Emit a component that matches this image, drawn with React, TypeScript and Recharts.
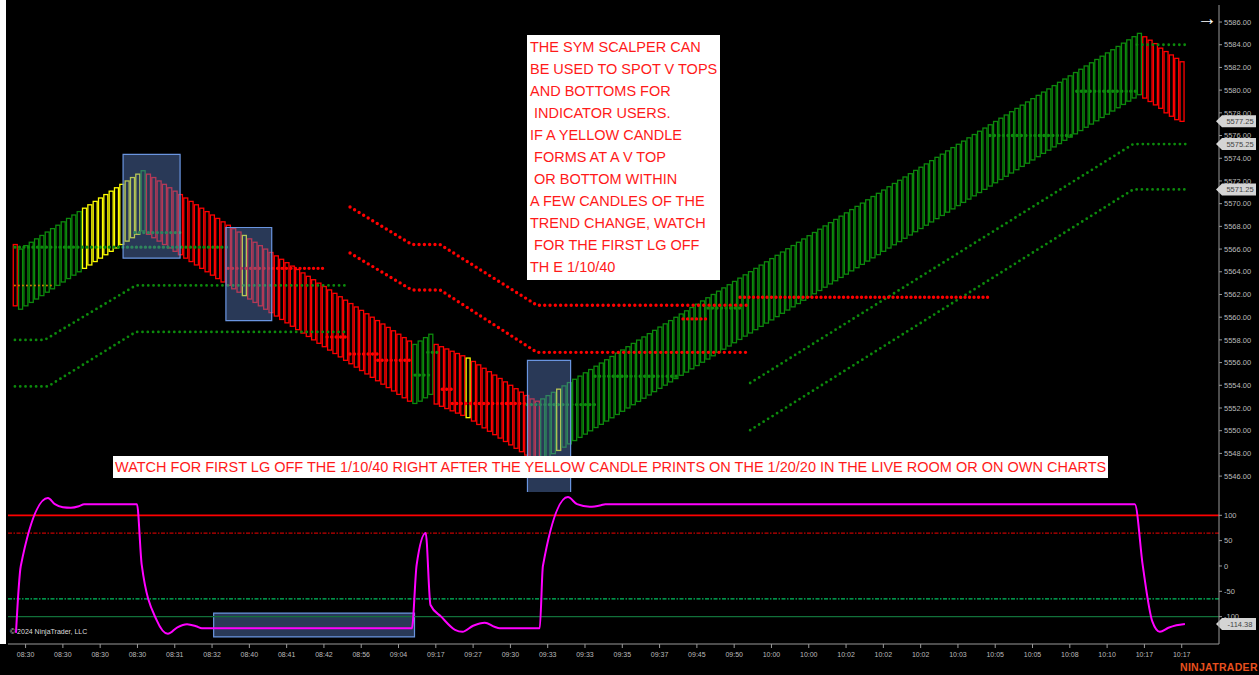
import React from 'react';
import { ComposedChart, Bar, Line, XAxis, YAxis, ReferenceLine, ReferenceArea } from 'recharts';

const CHART_W = 1259;
const MAIN_H = 492;
const LOWER_TOP = 492;
const LOWER_H = 183;
const X_DOMAIN: [number, number] = [-1.3, 226];
const PRICE_DOMAIN: [number, number] = [5544.6, 5587.5];
const OSC_DOMAIN: [number, number] = [-154, 146];

const priceTicks = [5546, 5548, 5550, 5552, 5554, 5556, 5558, 5560, 5562, 5564, 5566, 5568, 5570, 5572, 5574, 5576, 5578, 5580, 5582, 5584, 5586];
const oscTicks = [100, 50, 0, -50, -100];

const timeTickBars = [2, 9, 16, 23, 30, 37, 44, 51, 58, 65, 72, 79, 86, 93, 100, 107, 114, 121, 128, 135, 142, 149, 156, 163, 170, 177, 184, 191, 198, 205, 212, 219];
const timeTickLabels = ['08:30', '08:30', '08:30', '08:30', '08:31', '08:32', '08:40', '08:41', '08:42', '08:56', '09:04', '09:17', '09:27', '09:30', '09:33', '09:33', '09:35', '09:37', '09:45', '09:50', '10:00', '10:00', '10:02', '10:02', '10:02', '10:03', '10:05', '10:05', '10:08', '10:10', '10:17', '10:17'];

// Candle highs / lows by segment (bars 0..219)
const segAHigh = [5566.4];
const segALow = [5561.0];
const segBHigh = [5566.0, 5566.3, 5566.6, 5566.9, 5567.2, 5567.5, 5567.8, 5568.1, 5568.4, 5568.7, 5569.0, 5569.3, 5569.6, 5569.9, 5570.2, 5570.5, 5570.8, 5571.1, 5571.4, 5571.7, 5572.0, 5572.3, 5572.6, 5572.9];
const segBLow = [5560.7, 5561.0, 5561.3, 5561.6, 5561.9, 5562.2, 5562.5, 5562.8, 5563.1, 5563.4, 5563.7, 5564.0, 5564.3, 5564.6, 5564.9, 5565.2, 5565.5, 5565.8, 5566.1, 5566.4, 5566.7, 5567.0, 5567.3, 5567.6];
const segCHigh = [5572.6, 5572.3, 5572.0, 5571.7, 5571.4, 5571.1, 5570.8, 5570.5, 5570.2, 5569.9, 5569.6, 5569.3, 5569.0, 5568.7, 5568.4, 5568.1, 5567.8, 5567.5, 5567.2, 5566.9, 5566.6, 5566.3, 5566.0, 5565.7, 5565.4, 5565.1, 5564.8, 5564.5, 5564.2, 5563.9, 5563.6, 5563.3, 5563.0, 5562.7, 5562.4, 5562.1, 5561.8, 5561.5, 5561.2, 5560.9, 5560.6, 5560.3, 5560.0, 5559.7, 5559.4, 5559.1, 5558.8, 5558.5, 5558.2, 5557.9];
const segCLow = [5567.3, 5567.0, 5566.7, 5566.4, 5566.1, 5565.8, 5565.5, 5565.2, 5564.9, 5564.6, 5564.3, 5564.0, 5563.7, 5563.4, 5563.1, 5562.8, 5562.5, 5562.2, 5561.9, 5561.6, 5561.3, 5561.0, 5560.7, 5560.4, 5560.1, 5559.8, 5559.5, 5559.2, 5558.9, 5558.6, 5558.3, 5558.0, 5557.7, 5557.4, 5557.1, 5556.8, 5556.5, 5556.2, 5555.9, 5555.6, 5555.3, 5555.0, 5554.7, 5554.4, 5554.1, 5553.8, 5553.5, 5553.2, 5552.9, 5552.6];
const segDHigh = [5557.6, 5557.9, 5558.2, 5558.5];
const segDLow = [5552.4, 5552.6, 5552.9, 5553.2];
const segEHigh = [5557.6, 5557.4, 5557.2, 5557.0, 5556.8, 5556.6, 5556.4, 5556.1, 5555.8, 5555.5, 5555.2, 5554.9, 5554.6, 5554.3, 5554.0, 5553.7, 5553.4, 5553.1, 5552.8, 5552.6];
const segELow = [5552.35, 5552.15, 5551.95, 5551.75, 5551.55, 5551.35, 5551.15, 5550.85, 5550.55, 5550.25, 5549.95, 5549.65, 5549.35, 5549.05, 5548.75, 5548.45, 5548.15, 5547.85, 5547.55, 5547.35];
const segFHigh = [5552.80, 5553.09, 5553.38, 5553.66, 5553.95, 5554.24, 5554.53, 5554.81, 5555.10, 5555.39, 5555.68, 5555.96, 5556.25, 5556.54, 5556.83, 5557.11, 5557.40, 5557.69, 5557.98, 5558.26, 5558.55, 5558.84, 5559.13, 5559.41, 5559.70, 5559.99, 5560.28, 5560.56, 5560.85, 5561.14, 5561.43, 5561.71, 5562.00, 5562.29, 5562.58, 5562.86, 5563.15, 5563.44, 5563.73, 5564.01, 5564.30, 5564.59, 5564.88, 5565.16, 5565.45, 5565.74, 5566.03, 5566.31, 5566.60, 5566.89, 5567.18, 5567.46, 5567.75, 5568.04, 5568.33, 5568.61, 5568.90, 5569.19, 5569.48, 5569.76, 5570.05, 5570.34, 5570.63, 5570.91, 5571.20, 5571.49, 5571.78, 5572.06, 5572.35, 5572.64, 5572.93, 5573.21, 5573.50, 5573.79, 5574.08, 5574.36, 5574.65, 5574.94, 5575.23, 5575.51, 5575.80, 5576.09, 5576.38, 5576.66, 5576.95, 5577.24, 5577.53, 5577.81, 5578.10, 5578.39, 5578.68, 5578.96, 5579.25, 5579.54, 5579.83, 5580.11, 5580.40, 5580.69, 5580.98, 5581.26, 5581.55, 5581.84, 5582.13, 5582.41, 5582.70, 5582.99, 5583.28, 5583.56, 5583.85, 5584.14, 5584.43, 5584.71, 5585.00];
const segFLow = [5547.40, 5547.69, 5547.98, 5548.26, 5548.55, 5548.84, 5549.13, 5549.41, 5549.70, 5549.99, 5550.28, 5550.56, 5550.85, 5551.14, 5551.43, 5551.71, 5552.00, 5552.29, 5552.58, 5552.86, 5553.15, 5553.44, 5553.73, 5554.01, 5554.30, 5554.59, 5554.88, 5555.16, 5555.45, 5555.74, 5556.03, 5556.31, 5556.60, 5556.89, 5557.18, 5557.46, 5557.75, 5558.04, 5558.33, 5558.61, 5558.90, 5559.19, 5559.48, 5559.76, 5560.05, 5560.34, 5560.63, 5560.91, 5561.20, 5561.49, 5561.78, 5562.06, 5562.35, 5562.64, 5562.93, 5563.21, 5563.50, 5563.79, 5564.08, 5564.36, 5564.65, 5564.94, 5565.23, 5565.51, 5565.80, 5566.09, 5566.38, 5566.66, 5566.95, 5567.24, 5567.53, 5567.81, 5568.10, 5568.39, 5568.68, 5568.96, 5569.25, 5569.54, 5569.83, 5570.11, 5570.40, 5570.69, 5570.98, 5571.26, 5571.55, 5571.84, 5572.13, 5572.41, 5572.70, 5572.99, 5573.28, 5573.56, 5573.85, 5574.14, 5574.43, 5574.71, 5575.00, 5575.29, 5575.58, 5575.86, 5576.15, 5576.44, 5576.73, 5577.01, 5577.30, 5577.59, 5577.88, 5578.16, 5578.45, 5578.74, 5579.03, 5579.31, 5579.60];
const segGHigh = [5584.7, 5584.4, 5584.1, 5583.7, 5583.4, 5583.1, 5582.8, 5582.5];
const segGLow = [5579.3, 5579.0, 5578.7, 5578.4, 5578.0, 5577.7, 5577.4, 5577.25];

// candle colour runs (r = red, g = green, y = yellow)
const colorRuns: [string, number][] = [['r', 1], ['g', 12], ['y', 11], ['g', 1], ['r', 18], ['y', 1], ['r', 31], ['g', 4], ['r', 6], ['y', 1], ['r', 13], ['g', 3], ['y', 1], ['g', 109], ['r', 8]];
const COLOR_MAP: Record<string, string> = { r: '#ff0000', g: '#0c8a0c', y: '#ffff00' };

// dotted indicator lines: [bar, price]
const g1Pts = [[0, 5558.0], [5.6, 5558.0], [22.7, 5562.8], [62.5, 5562.8]];
const g2Pts = [[0, 5553.9], [6.2, 5553.9], [22.7, 5558.7], [62.5, 5558.7]];
const orangePts = [[0, 5562.8], [7.5, 5562.8]];
const r1Pts = [[62.9, 5569.7], [74.5, 5566.4], [79.8, 5566.4], [98, 5561.05], [137.6, 5561.05]];
const r2Pts = [[62.9, 5565.65], [74.5, 5562.4], [79.8, 5562.4], [98, 5556.9], [137.6, 5556.9]];
const g3Pts = [[138, 5554.2], [209.9, 5575.25], [220, 5575.25]];
const g4Pts = [[138, 5550.05], [209.9, 5571.25], [220, 5571.25]];
const g5Pts = [[210.6, 5584.0], [220, 5584.0]];

// dense level lines: [fromBar, toBar, price]
const greenLevels = [[0, 39.8, 5566.17], [22.5, 31.4, 5567.45], [75.1, 77.9, 5554.9], [77.5, 79.8, 5556.9], [96.1, 108.9, 5552.3], [108.9, 124.3, 5554.8], [130.1, 136.1, 5560.8], [183, 198.6, 5576.0], [199.3, 211, 5579.9]];
const redLevels = [[40, 58.2, 5564.3], [58.6, 62.5, 5558.25], [62.9, 68, 5556.75], [68.1, 74.7, 5556.2], [80.2, 82, 5553.65], [82.1, 96, 5552.4], [125.4, 130.1, 5559.85], [136.1, 183, 5561.75]];

// highlight boxes: [x1, x2, y1, y2]
const priceBoxes = [[20.3, 31.0, 5565.2, 5574.35], [39.6, 48.2, 5559.7, 5567.9], [96.2, 104.3, 5543.9, 5556.2]];
const oscBoxes = [[37.3, 75.0, -140, -93]];

const priceFlags = [5577.25, 5575.25, 5571.25];
const oscFlag = -114.38;

// oscillator (magenta) points: [bar, value]
const oscPts = [[0.2, -132], [1.1, 0], [6.2, 134], [7.5, 122], [9, 116], [10.5, 115], [12, 118], [13, 122], [22.9, 122], [23.8, 2], [26.6, -107], [28.7, -134], [30.5, -121], [32.3, -115], [34, -119], [35.1, -123], [74.5, -123], [75.4, 2], [77.1, 65], [78, -77], [80, -100], [82.6, -126], [84, -130], [86, -118], [88.2, -112], [90, -120], [91, -123], [98.5, -123], [99.1, 0], [103.8, 136], [105.5, 122], [107.9, 117], [110, 120], [110.8, 122], [210.2, 122], [211.7, 0], [213.5, -110], [214.9, -130], [216.5, -122], [218, -117], [219.6, -114.38]];

const noteLines = ['THE SYM SCALPER CAN', 'BE USED TO SPOT V TOPS', 'AND BOTTOMS FOR', ' INDICATOR USERS.', 'IF A YELLOW CANDLE', ' FORMS AT A V TOP', ' OR BOTTOM WITHIN', 'A FEW CANDLES OF THE', 'TREND CHANGE, WATCH', ' FOR THE FIRST LG OFF', 'TH E 1/10/40'];
const bandText = 'WATCH FOR FIRST LG OFF THE 1/10/40 RIGHT AFTER THE YELLOW CANDLE PRINTS ON THE 1/20/20 IN THE LIVE ROOM OR ON OWN CHARTS';

const allHigh = [...segAHigh, ...segBHigh, ...segCHigh, ...segDHigh, ...segEHigh, ...segFHigh, ...segGHigh];
const allLow = [...segALow, ...segBLow, ...segCLow, ...segDLow, ...segELow, ...segFLow, ...segGLow];
const allColors: string[] = [];
colorRuns.forEach(([c, n]) => { for (let i = 0; i < n; i++) allColors.push(c); });
const candles = allHigh.map((h, i) => ({ x: i, range: [allLow[i] ?? h - 5.3, h], c: allColors[i] ?? 'g' }));

const toPts = (arr: number[][]) => arr.map(([x, p]) => ({ x, p }));

const CandleShape = (props: any) => {
  const { x, y, width, height, payload } = props;
  if (x == null || y == null || !payload) return null;
  const cx = x + (width || 0) / 2;
  const top = Math.min(y, y + height);
  const h = Math.max(Math.abs(height), 1);
  const w = 4;
  return <rect x={cx - w / 2} y={top} width={w} height={h} fill="none" stroke={COLOR_MAP[payload.c]} strokeWidth={1.3} />;
};

const Flag = (props: any) => {
  const vb = props.viewBox || {};
  const right = (vb.x || 0) + (vb.width || 0);
  const y = vb.y || 0;
  const x0 = right - 3;
  return (
    <g>
      <polygon points={`${x0},${y} ${x0 + 6},${y - 6} ${x0 + 40},${y - 6} ${x0 + 40},${y + 6} ${x0 + 6},${y + 6}`} fill="#d4d4d4" />
      <text x={x0 + 24} y={y + 2.8} textAnchor="middle" fontSize={7.5} fill="#444" fontFamily="Liberation Sans, Arial, sans-serif">{props.text}</text>
    </g>
  );
};

const dotLine = (key: string, pts: number[][], color: string, width: number, gap: number) => (
  <Line key={key} data={toPts(pts)} dataKey="p" type="linear" stroke={color} strokeWidth={width} strokeDasharray={`0 ${gap}`} strokeLinecap="round" dot={false} activeDot={false} isAnimationActive={false} />
);

const boxStyle = { fill: '#5b7fc0', fillOpacity: 0.45, stroke: '#6a95e0', strokeWidth: 1.2 };
const FONT = 'Liberation Sans, Arial, sans-serif';

export default function App() {
  return (
    <div style={{ position: 'absolute', left: 0, top: 0, width: CHART_W, height: 675, background: '#000', overflow: 'hidden', fontFamily: FONT }}>
      {/* candles */}
      <div style={{ position: 'absolute', left: 0, top: 0 }}>
        <ComposedChart width={CHART_W} height={MAIN_H} data={candles} margin={{ top: 5, right: 0, bottom: 0, left: 8 }}>
          <XAxis dataKey="x" type="number" domain={X_DOMAIN} hide allowDataOverflow />
          <YAxis orientation="right" domain={PRICE_DOMAIN} ticks={priceTicks} allowDataOverflow width={40}
            tickFormatter={(v: number) => v.toFixed(2)} tick={{ fill: '#bbb', fontSize: 7.5, fontFamily: FONT }}
            axisLine={{ stroke: '#999' }} tickLine={{ stroke: '#999' }} tickSize={3} tickMargin={2} interval={0} />
          <Bar dataKey="range" barSize={4} shape={<CandleShape />} isAnimationActive={false} />
        </ComposedChart>
      </div>
      {/* indicator dotted lines */}
      <div style={{ position: 'absolute', left: 0, top: 0 }}>
        <ComposedChart width={CHART_W} height={MAIN_H} margin={{ top: 5, right: 40, bottom: 0, left: 8 }}>
          <XAxis dataKey="x" type="number" domain={X_DOMAIN} hide allowDataOverflow />
          <YAxis domain={PRICE_DOMAIN} hide allowDataOverflow />
          {dotLine('g1', g1Pts, '#0c8a0c', 2.8, 5.3)}
          {dotLine('g2', g2Pts, '#0c8a0c', 2.8, 5.3)}
          {dotLine('or', orangePts, '#c88400', 2, 4)}
          {dotLine('r1', r1Pts, '#ff0000', 3.4, 5.3)}
          {dotLine('r2', r2Pts, '#ff0000', 3.4, 5.3)}
          {dotLine('g3', g3Pts, '#0c8a0c', 2.8, 5.3)}
          {dotLine('g4', g4Pts, '#0c8a0c', 2.8, 5.3)}
          {dotLine('g5', g5Pts, '#0c8a0c', 2.8, 5.3)}
          {greenLevels.map((l, i) => dotLine('gl' + i, [[l[0], l[2]], [l[1], l[2]]], '#0c8a0c', 3.4, 4.5))}
          {redLevels.map((l, i) => dotLine('rl' + i, [[l[0], l[2]], [l[1], l[2]]], '#ff0000', 3.4, 4.5))}
        </ComposedChart>
      </div>
      {/* boxes and value flags */}
      <div style={{ position: 'absolute', left: 0, top: 0 }}>
        <ComposedChart width={CHART_W} height={MAIN_H} margin={{ top: 5, right: 40, bottom: 0, left: 8 }}>
          <XAxis dataKey="x" type="number" domain={X_DOMAIN} hide allowDataOverflow />
          <YAxis domain={PRICE_DOMAIN} hide allowDataOverflow />
          {priceBoxes.map((b, i) => (
            <ReferenceArea key={'pb' + i} x1={b[0]} x2={b[1]} y1={b[2]} y2={b[3]} ifOverflow="visible" {...boxStyle} />
          ))}
          {priceFlags.map((f) => (
            <ReferenceLine key={'pf' + f} y={f} stroke="none" label={<Flag text={f.toFixed(2)} />} />
          ))}
        </ComposedChart>
      </div>
      {/* oscillator panel */}
      <div style={{ position: 'absolute', left: 0, top: LOWER_TOP }}>
        <ComposedChart width={CHART_W} height={LOWER_H} data={oscPts.map(([x, v]) => ({ x, v }))} margin={{ top: 0, right: 0, bottom: 0, left: 8 }}>
          <XAxis dataKey="x" type="number" domain={X_DOMAIN} allowDataOverflow ticks={timeTickBars} interval={0} height={31}
            tickFormatter={(v: number) => timeTickLabels[timeTickBars.indexOf(v)] ?? ''}
            tick={{ fill: '#bbb', fontSize: 7, fontFamily: FONT }} axisLine={{ stroke: '#999' }} tickLine={{ stroke: '#999' }} tickSize={4} tickMargin={4} />
          <YAxis orientation="right" domain={OSC_DOMAIN} ticks={oscTicks} allowDataOverflow width={40} interval={0}
            tick={{ fill: '#bbb', fontSize: 7.5, fontFamily: FONT }} axisLine={{ stroke: '#999' }} tickLine={{ stroke: '#999' }} tickSize={3} tickMargin={2} />
          <ReferenceLine y={100} stroke="#ff0000" strokeWidth={1.8} />
          <ReferenceLine y={65} stroke="#c40000" strokeWidth={1.3} strokeDasharray="4 1.5 1.5 1.5" />
          <ReferenceLine y={-65} stroke="#00c060" strokeWidth={1.3} strokeDasharray="4 1.5 1.5 1.5" />
          <ReferenceLine y={-100} stroke="#12703a" strokeWidth={1.4} />
          <Line dataKey="v" type="monotone" stroke="#ff00ff" strokeWidth={2} dot={false} activeDot={false} isAnimationActive={false} />
          {oscBoxes.map((b, i) => (
            <ReferenceArea key={'ob' + i} x1={b[0]} x2={b[1]} y1={b[2]} y2={b[3]} {...boxStyle} />
          ))}
          <ReferenceLine y={oscFlag} stroke="none" label={<Flag text={oscFlag.toFixed(2)} />} />
        </ComposedChart>
      </div>
      {/* left white strip */}
      <div style={{ position: 'absolute', left: 0, top: 0, width: 6, height: 644, background: '#fff' }} />
      {/* annotation note */}
      <div style={{ position: 'absolute', left: 527, top: 35, width: 193, height: 245, background: '#fff', color: '#ff1a1a', fontSize: 14.5, lineHeight: '22px', paddingTop: 1, paddingLeft: 3, boxSizing: 'border-box', whiteSpace: 'pre' }}>
        {noteLines.map((l, i) => <div key={i}>{l}</div>)}
      </div>
      <div style={{ position: 'absolute', left: 113, top: 456, width: 995, height: 22, background: '#fff', color: '#ff1a1a', fontSize: 14.5, lineHeight: '22px', paddingLeft: 2, boxSizing: 'border-box', whiteSpace: 'pre' }}>
        {bandText}
      </div>
      <div style={{ position: 'absolute', left: 1197, top: 6, color: '#fff', fontSize: 20, lineHeight: '24px' }}>→</div>
      <div style={{ position: 'absolute', left: 10, top: 628, color: '#ddd', fontSize: 7 }}>© 2024 NinjaTrader, LLC</div>
      <div style={{ position: 'absolute', left: 1180, top: 661, color: '#e8501e', fontSize: 10.5, fontWeight: 'bold', letterSpacing: 0.3 }}>NINJATRADER</div>
    </div>
  );
}
